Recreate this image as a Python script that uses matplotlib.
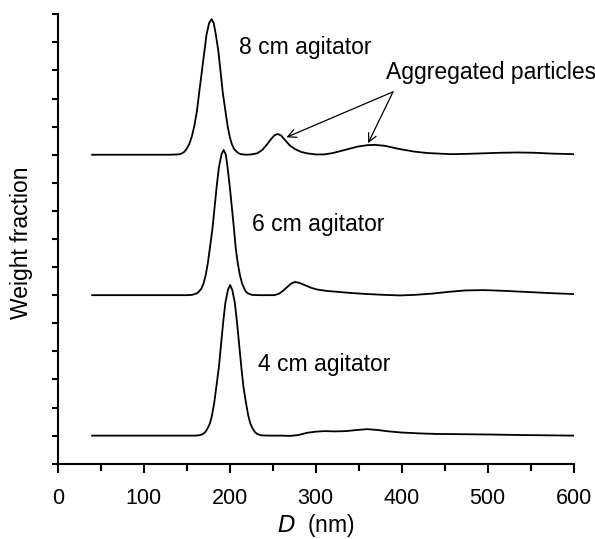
import matplotlib.pyplot as plt
from matplotlib.ticker import MultipleLocator, NullFormatter

plt.rcParams['font.family'] = ['Liberation Sans', 'DejaVu Sans']

# particle size distributions, D in nm, weight fraction in arbitrary units
d_8cm = [40, 100, 130, 139, 142, 144.5, 147.5, 150, 153, 156, 159, 162, 164.5, 167.5,
         170.5, 173, 176, 179, 181.5, 184, 187, 189.5, 192, 195, 197.5, 200, 202.5,
         205, 208, 210.5, 213, 216, 220, 225, 232, 238, 243, 248, 252, 256, 260, 265,
         270, 276, 283, 290, 300, 310, 320, 334, 349, 360, 369, 380, 398, 415, 430,
         457, 475, 495, 515, 535, 555, 575, 600]
w_8cm = [0, 0, 0, 0.01, 0.02, 0.05, 0.11, 0.21, 0.38, 0.65, 1.04, 1.57, 2.21, 2.93,
         3.65, 4.26, 4.68, 4.83, 4.68, 4.26, 3.65, 2.93, 2.21, 1.57, 1.04, 0.65, 0.38,
         0.21, 0.11, 0.05, 0.02, 0.01, 0.0, 0.01, 0.05, 0.17, 0.35, 0.55, 0.69, 0.74,
         0.68, 0.5, 0.33, 0.2, 0.1, 0.05, 0.01, 0.01, 0.06, 0.17, 0.29, 0.34, 0.35,
         0.32, 0.2, 0.11, 0.06, 0.02, 0.03, 0.05, 0.07, 0.08, 0.07, 0.04, 0.02]

d_6cm = [40, 100, 140, 150, 156, 158.5, 161.5, 164, 167, 169.5, 172, 174.5, 177, 180,
         182.5, 185, 187.5, 190.5, 193, 195.5, 197.5, 200, 202.5, 205, 207, 209.5,
         212, 214.5, 217, 219, 221.5, 224, 226, 235, 252, 258, 263, 268, 272, 276,
         281, 288, 295, 302, 313, 325, 340, 360, 380, 398, 415, 437, 455, 475, 495,
         515, 535, 555, 575, 600]
w_6cm = [0, 0, 0, 0, 0.01, 0.03, 0.06, 0.12, 0.23, 0.41, 0.70, 1.12, 1.68, 2.37,
         3.14, 3.90, 4.56, 5.01, 5.17, 5.01, 4.56, 3.90, 3.14, 2.37, 1.68, 1.12,
         0.70, 0.41, 0.23, 0.12, 0.06, 0.03, 0.01, 0, 0, 0.06, 0.18, 0.32, 0.42,
         0.47, 0.44, 0.35, 0.26, 0.2, 0.15, 0.12, 0.08, 0.04, 0.01, -0.01, 0.01,
         0.06, 0.12, 0.17, 0.18, 0.16, 0.13, 0.1, 0.07, 0.04]

d_4cm = [40, 100, 150, 160, 164, 166.5, 169, 171.5, 174, 177, 179.5, 182, 184.5, 187.5,
         190, 192.5, 195, 198, 200.5, 203, 206, 208.5, 211, 213.5, 216, 219, 221.5,
         224, 227, 229.5, 232, 234.5, 237, 245, 260, 270, 280, 290, 300, 310, 322,
         335, 348, 360, 372, 385, 400, 420, 440, 470, 500, 540, 570, 600]
w_4cm = [0, 0, 0, 0, 0.01, 0.03, 0.06, 0.12, 0.24, 0.43, 0.73, 1.16, 1.74, 2.45,
         3.25, 4.05, 4.73, 5.19, 5.36, 5.19, 4.73, 4.05, 3.25, 2.45, 1.74, 1.16,
         0.73, 0.43, 0.24, 0.12, 0.06, 0.03, 0.01, 0, 0, -0.01, 0.02, 0.1, 0.14,
         0.16, 0.15, 0.16, 0.2, 0.23, 0.2, 0.15, 0.11, 0.08, 0.06, 0.05, 0.04, 0.02,
         0.01, 0.0]

labels = ['8 cm agitator', '6 cm agitator', '4 cm agitator']
offsets = [11, 6, 1]
label_pos = [(211, 14.57), (225.5, 8.29), (233, 3.31)]

fig = plt.figure(figsize=(5.95, 5.39), dpi=100)
ax = fig.add_axes([0.097, 0.1397, 0.867, 0.8338])

for d, w, off, name, (tx, ty) in zip([d_8cm, d_6cm, d_4cm], [w_8cm, w_6cm, w_4cm],
                                      offsets, labels, label_pos):
    ax.plot(d, [v + off for v in w], color='black', lw=1.3)
    ax.text(tx, ty, name, fontsize=16.5, ha='left', va='baseline')

# arrows to the aggregate peaks of the 8 cm curve
ax.text(381.5, 13.69, 'Aggregated particles', fontsize=16.5, ha='left', va='baseline')
for tip in [(266, 11.62), (361, 11.41)]:
    ax.annotate('', xy=tip, xytext=(390, 13.24),
                arrowprops=dict(arrowstyle='->', color='black', lw=0.9,
                                shrinkA=0, shrinkB=0, mutation_scale=15))

ax.set_xlim(0, 600)
ax.set_ylim(0, 16)
ax.xaxis.set_major_locator(MultipleLocator(100))
ax.xaxis.set_minor_locator(MultipleLocator(50))
ax.yaxis.set_major_locator(MultipleLocator(1))
ax.yaxis.set_major_formatter(NullFormatter())

for side in ['top', 'right']:
    ax.spines[side].set_visible(False)
for side in ['left', 'bottom']:
    ax.spines[side].set_linewidth(1.5)

ax.tick_params(axis='x', which='major', length=6.5, width=1.5, labelsize=15.5, pad=11)
ax.tick_params(axis='x', which='minor', length=4.8, width=1.5)
ax.tick_params(axis='y', which='major', length=4.5, width=1.5)

ax.set_xlabel('$\\it{D}$  (nm)', fontsize=16.5, labelpad=2)
ax.set_ylabel('Weight fraction', fontsize=16.5)
ax.yaxis.set_label_coords(-0.047, 0.491)

fig.savefig('out.png', dpi=100)
